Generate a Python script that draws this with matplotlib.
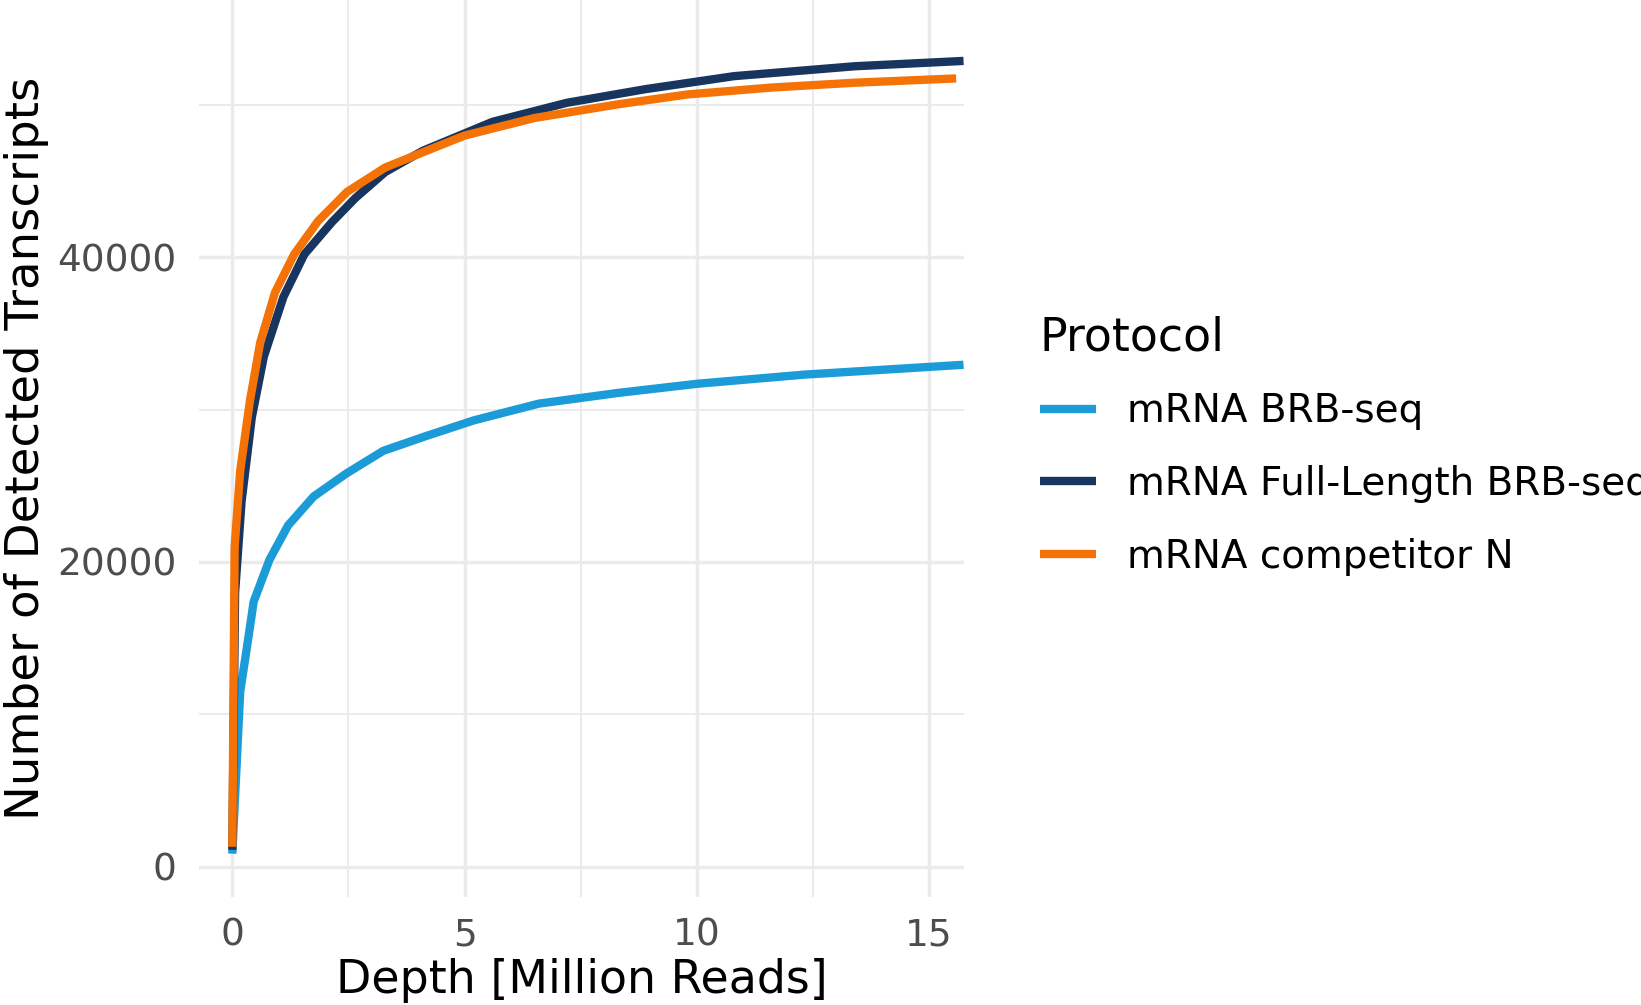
import matplotlib
matplotlib.use("Agg")
import matplotlib.pyplot as plt
from matplotlib.lines import Line2D

# ---- data ----
labels = ["mRNA BRB-seq", "mRNA Full-Length BRB-seq", "mRNA competitor N"]
colors = ["#1B9CD8", "#17355E", "#F57306"]

depth_brb = [0, 0.17, 0.31, 0.46, 0.8, 1.2, 1.75, 2.45, 3.25, 4.2, 5.2, 6.6, 8.3, 10.0, 12.3, 15.74]
trans_brb = [850, 11500, 14300, 17400, 20150, 22400, 24300, 25800, 27300, 28300, 29300, 30400, 31100, 31700, 32300, 32950]

depth_fl = [0, 0.06, 0.2, 0.42, 0.68, 1.1, 1.55, 2.14, 2.65, 3.29, 4.1, 5.6, 7.2, 8.9, 10.8, 13.4, 15.74]
trans_fl = [1100, 18000, 24000, 29500, 33500, 37400, 40200, 42300, 43900, 45600, 47000, 48900, 50150, 51050, 51900, 52550, 52900]

depth_comp = [0, 0.05, 0.17, 0.38, 0.6, 0.92, 1.33, 1.85, 2.47, 3.29, 4.1, 5.0, 6.5, 8.3, 9.8, 11.6, 13.4, 15.58]
trans_comp = [1300, 21000, 26000, 30600, 34400, 37700, 40200, 42400, 44300, 45900, 46900, 48000, 49150, 50050, 50700, 51150, 51470, 51750]

x_ticks = [0, 5, 10, 15]
y_ticks = [0, 20000, 40000]

FONT = ["DejaVu Sans"]
plt.rcParams["font.family"] = FONT

fig = plt.figure(figsize=(16.41, 10.05), dpi=100)
ax = fig.add_axes([199/1641, 1 - 897/1005, (964-199)/1641, 897/1005])

series = [(depth_brb, trans_brb), (depth_fl, trans_fl), (depth_comp, trans_comp)]
for (x, y), c, lab in zip(series, colors, labels):
    ax.plot(x, y, color=c, lw=6, solid_capstyle="butt", solid_joinstyle="miter", label=lab, zorder=3)

ax.set_xlim(-0.717, 15.75)
ax.set_ylim(-1996, 56900)
ax.set_xticks(x_ticks)
ax.set_yticks(y_ticks)
ax.set_xticks([2.5, 7.5, 12.5], minor=True)
ax.set_yticks([10000, 30000, 50000], minor=True)
ax.grid(True, which="major", color="#EBEBEB", lw=2.5)
ax.grid(True, which="minor", color="#EBEBEB", lw=1.4)
ax.set_axisbelow(True)
for s in ax.spines.values():
    s.set_visible(False)
ax.tick_params(which="both", length=0)
ax.tick_params(axis="x", labelsize=27, labelcolor="#4D4D4D", pad=15)
ax.tick_params(axis="y", labelsize=27, labelcolor="#4D4D4D", pad=16)

ax.set_xlabel("Depth [Million Reads]", fontsize=33, color="black", labelpad=3)
ax.set_ylabel("Number of Detected Transcripts", fontsize=33.5, color="black", labelpad=6)

handles = [Line2D([0], [0], color=c, lw=6, solid_capstyle="butt") for c in colors]
leg = fig.legend(handles, labels, loc="upper left", bbox_to_anchor=(1024/1641, 1 - 300/1005),
                 frameon=False, fontsize=28, title="Protocol", title_fontsize=33,
                 handlelength=1.45, handletextpad=0.8, labelspacing=0.89, borderaxespad=0)
leg._legend_box.align = "left"
leg._legend_box.sep = 23

fig.savefig("out.png", dpi=100)
